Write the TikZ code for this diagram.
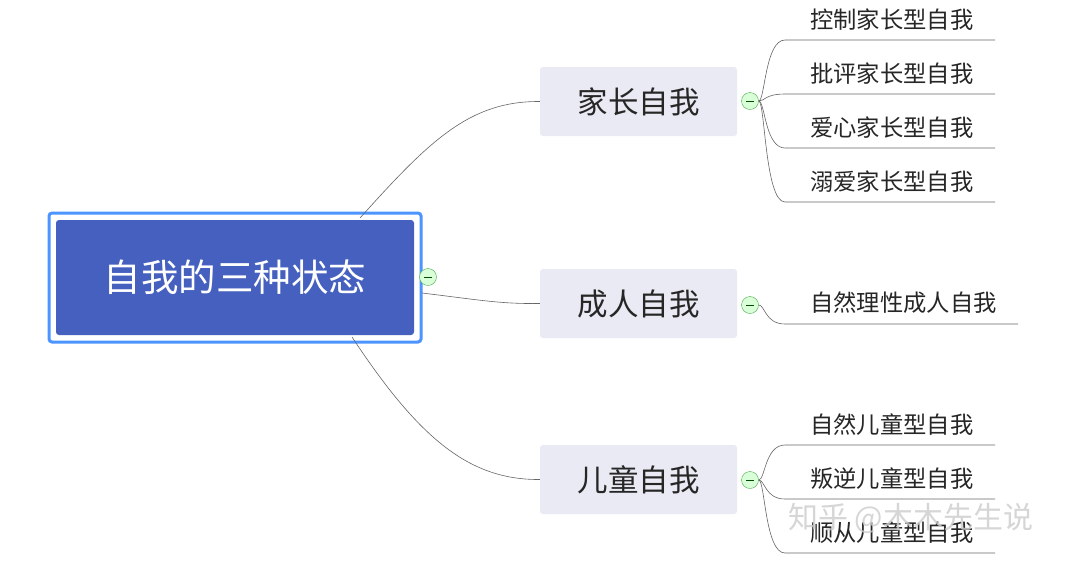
\documentclass[tikz,border=0pt]{standalone}
\usepackage{fontspec}
\newfontfamily\cjk{Noto Sans CJK SC}
\begin{document}
\begin{tikzpicture}[x=1pt,y=-1pt,
  conn/.style={draw=gray!80!black,line width=0.6pt},
  mid/.style={fill={rgb,255:red,233;green,234;blue,243},rounded corners=3pt,minimum width=197pt,minimum height=69pt,font=\cjk\fontsize{30.5}{32}\selectfont,text=black!85},
  leaf/.style={anchor=west,font=\cjk\fontsize{23.3}{25}\selectfont,text=black!85,inner sep=0pt},
  tog/.style={circle,draw=green!50!black!70,fill=green!15,minimum size=17pt,inner sep=0pt,
    path picture={\draw[green!30!black,line width=0.8pt] ([xshift=-4pt]path picture bounding box.center) -- ([xshift=4pt]path picture bounding box.center);}}]
\useasboundingbox (0,0) rectangle (1078,566);
\fill[white] (0,0) rectangle (1078,566);
\draw[draw=blue!60!cyan!70!white,line width=3pt,rounded corners=3pt] (49,213) rectangle (421,342);
\node[fill={rgb,255:red,69;green,96;blue,190},rounded corners=3pt,minimum width=358pt,minimum height=115pt,text=white,font=\cjk\fontsize{37.5}{40}\selectfont] (root) at (235,277.5) {自我的三种状态};
\node[mid] (p) at (638.5,101.5) {家长自我};
\node[mid] (a) at (638.5,303.5) {成人自我};
\node[mid] (c) at (638.5,479.5) {儿童自我};
\coordinate (r1) at (360,218);
\coordinate (r2) at (422,293);
\coordinate (r3) at (352,337);
\draw[conn] (r1) .. controls (430,140) and (470,101) .. (p.west);
\draw[conn] (r2) .. controls (480,300) and (500,304) .. (a.west);
\draw[conn] (r3) .. controls (420,440) and (470,480) .. (c.west);
\node[tog] (rt) at (428,277) {};
\node[tog] (pt) at (750,101) {};
\node[tog] (at) at (750,305) {};
\node[tog] (ct) at (750,480) {};
\foreach \t/\y [count=\i] in {控制家长型自我/20,批评家长型自我/74,爱心家长型自我/128,溺爱家长型自我/182}{
  \node[leaf] (pl\i) at (810,\y) {\t};
  \coordinate (pe\i) at (995,\y+20);
  \coordinate (ps\i) at (785,\y+20);
  \draw[conn] (pt.east) .. controls (765,101) and (765,\y+20) .. (ps\i) -- (pe\i);
}
\node[leaf] (al) at (810,303) {自然理性成人自我};
\coordinate (as) at (785,324); \coordinate (ae) at (1018,324);
\draw[conn] (at.east) .. controls (765,305) and (765,324) .. (as) -- (ae);
\foreach \t/\y [count=\i] in {自然儿童型自我/425,叛逆儿童型自我/479,顺从儿童型自我/533}{
  \node[leaf] (cl\i) at (810,\y) {\t};
  \coordinate (ce\i) at (995,\y+20);
  \coordinate (cs\i) at (785,\y+20);
  \draw[conn] (ct.east) .. controls (765,480) and (765,\y+20) .. (cs\i) -- (ce\i);
}
\node[text=gray!40,font=\cjk\fontsize{30}{32}\selectfont,anchor=west,opacity=0.8,inner sep=0pt] (wm) at (788,518) {知乎 @木木先生说};
\end{tikzpicture}
\end{document}
